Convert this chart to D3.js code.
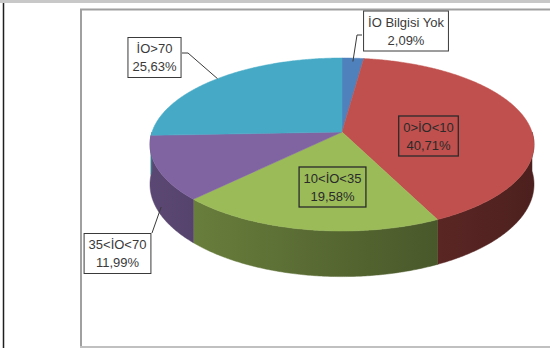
<!DOCTYPE html>
<html>
<head>
<meta charset="utf-8">
<script src="https://cdn.jsdelivr.net/npm/d3@7"></script>
<style>
  html, body { margin: 0; padding: 0; background: #ffffff; }
  svg { display: block; }
</style>
</head>
<body>
<script>
// ---- data ----
const categories = ["İO Bilgisi Yok", "0>İO<10", "10<İO<35", "35<İO<70", "İO>70"];
const values = [2.09, 40.71, 19.58, 11.99, 25.63];
const colors = ["#4f81bd", "#c0504d", "#9bbb59", "#8064a2", "#46aac6"];

// ---- layout (not data) ----
const W = 550, H = 348;
const cx = 342, cy = 132, RX = 190, RY = 84.7, K = 0.1445, DEPTH = 39;
// label box centres and leader lines
const labelPos = [
  {x: 406, y: 31, inside: false, leader: [[362, 35], [357, 35]], anchorDepth: 0.1},
  {x: 428.5, y: 136, inside: true},
  {x: 332.5, y: 187, inside: true},
  {x: 117.5, y: 253.5, inside: false, leader: [[152, 233]], anchorDepth: 0.8, anchorShift: -0.06},
  {x: 154.5, y: 57.5, inside: false, leader: [[182, 53], [188, 53]], anchorDepth: 0}
];

const svg = d3.select("body").append("svg").attr("width", W).attr("height", H);

// frame
svg.append("rect").attr("x", 0).attr("y", 0).attr("width", W).attr("height", 3).attr("fill", "#c8c8c8");
svg.append("line").attr("x1", 3.5).attr("x2", 3.5).attr("y1", 3).attr("y2", H).attr("stroke", "#1e1e1e").attr("stroke-width", 1.5);
svg.append("path").attr("d", `M81,${H} V9.5 H${W}`).attr("fill", "none").attr("stroke", "#a0a0a0").attr("stroke-width", 2);
svg.append("rect").attr("x", 80).attr("y", H - 2).attr("width", W - 80).attr("height", 2).attr("fill", "#c0c0c0");

// perspective projection of a rim point at angle a (clockwise from top)
function proj(a, depth) {
  const u = Math.sin(a), t = -Math.cos(a), s = 1 / (1 - K * t);
  return [cx + RX * u * s, cy + RY * t * s + (depth || 0) * s];
}
function arcPts(a0, a1, depth) {
  const n = Math.max(2, Math.ceil(Math.abs(a1 - a0) / 0.01));
  const pts = [];
  for (let i = 0; i <= n; i++) pts.push(proj(a0 + (a1 - a0) * i / n, depth));
  return pts;
}

const pie = d3.pie().sort(null).value(d => d);
const arcs = pie(values);

const defs = svg.append("defs");
arcs.forEach((d, i) => {
  const c = d3.color(colors[i]);
  const g = defs.append("linearGradient").attr("id", "side" + i)
    .attr("gradientUnits", "userSpaceOnUse").attr("x1", 150).attr("x2", 534).attr("y1", 0).attr("y2", 0);
  g.append("stop").attr("offset", 0).attr("stop-color", c.darker(0.95).formatHex());
  g.append("stop").attr("offset", 0.5).attr("stop-color", c.darker(1.7).formatHex());
  g.append("stop").attr("offset", 1).attr("stop-color", c.darker(2.6).formatHex());
});

const line = d3.line();
const gSide = svg.append("g");
const gTop = svg.append("g");

arcs.forEach((d, i) => {
  // side (front rim only)
  const lo = Math.max(d.startAngle, Math.PI / 2), hi = Math.min(d.endAngle, 3 * Math.PI / 2);
  if (hi > lo) {
    const top = arcPts(lo, hi, 0);
    const bot = arcPts(hi, lo, DEPTH);
    gSide.append("path").attr("d", line(top.concat(bot)) + "Z")
      .attr("fill", `url(#side${i})`).attr("stroke", `url(#side${i})`).attr("stroke-width", 0.5);
  }
});
arcs.forEach((d, i) => {
  const pts = [[cx, cy]].concat(arcPts(d.startAngle, d.endAngle, 0));
  gTop.append("path").attr("d", line(pts) + "Z")
    .attr("fill", colors[i]).attr("stroke", colors[i]).attr("stroke-width", 0.5);
});

// labels
const fmt = v => d3.format(".2f")(v).replace(".", ",") + "%";
const gLab = svg.append("g").attr("font-family", "Liberation Sans, Arial, sans-serif")
  .attr("font-size", 13).attr("fill", "#3a3a3a");

arcs.forEach((d, i) => {
  const p = labelPos[i];
  if (p.leader) {
    const mid = (d.startAngle + d.endAngle) / 2 + (p.anchorShift || 0);
    const anchor = proj(mid, DEPTH * p.anchorDepth);
    gLab.append("path").attr("d", line(p.leader.concat([anchor])))
      .attr("fill", "none").attr("stroke", "#3a3a3a").attr("stroke-width", 1);
  }
  const g = gLab.append("g");
  const rect = g.append("rect");
  const t1 = g.append("text").attr("x", p.x).attr("y", p.y - 4.5).attr("text-anchor", "middle").text(categories[i]);
  const t2 = g.append("text").attr("x", p.x).attr("y", p.y + 13.5).attr("text-anchor", "middle").text(fmt(values[i]));
  const w = Math.max(t1.node().getComputedTextLength(), t2.node().getComputedTextLength()) + 9;
  rect.attr("x", p.x - w / 2).attr("y", p.y - 20).attr("width", w).attr("height", 40)
    .attr("fill", p.inside ? "none" : "#ffffff")
    .attr("stroke", p.inside ? "#2a2a2a" : "#3a3a3a").attr("stroke-width", p.inside ? 1.3 : 1);
  if (p.inside) t1.attr("fill", "#2a2a2a"), t2.attr("fill", "#2a2a2a");
});
</script>
</body>
</html>
